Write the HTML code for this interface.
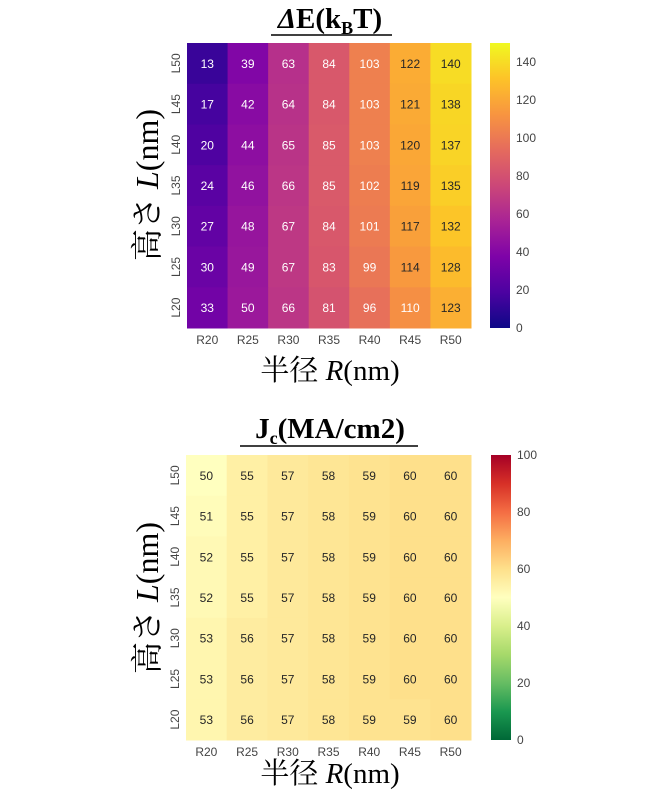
<!DOCTYPE html>
<html><head><meta charset="utf-8"><style>
body{margin:0;background:#fff;width:660px;height:790px;overflow:hidden}
svg{display:block}
</style></head><body>
<svg id="s" width="660" height="790" xmlns="http://www.w3.org/2000/svg" font-family="Liberation Sans, sans-serif">
<defs>
<linearGradient id="gp" x1="0" y1="1" x2="0" y2="0">
<stop offset="0" stop-color="#0d0887"/><stop offset="0.125" stop-color="#4c02a1"/><stop offset="0.25" stop-color="#7e03a8"/><stop offset="0.375" stop-color="#a92395"/><stop offset="0.5" stop-color="#cc4778"/><stop offset="0.625" stop-color="#e56b5d"/><stop offset="0.75" stop-color="#f89540"/><stop offset="0.875" stop-color="#fdc328"/><stop offset="1" stop-color="#f0f921"/>
</linearGradient>
<linearGradient id="gr" x1="0" y1="1" x2="0" y2="0">
<stop offset="0" stop-color="#006837"/><stop offset="0.1" stop-color="#1a9850"/><stop offset="0.2" stop-color="#66bd63"/><stop offset="0.3" stop-color="#a6d96a"/><stop offset="0.4" stop-color="#d9ef8b"/><stop offset="0.5" stop-color="#ffffbf"/><stop offset="0.6" stop-color="#fee08b"/><stop offset="0.7" stop-color="#fdae61"/><stop offset="0.8" stop-color="#f46d43"/><stop offset="0.9" stop-color="#d73027"/><stop offset="1" stop-color="#a50026"/>
</linearGradient>
</defs>
<text x="330" y="28" text-anchor="middle" font-family="Liberation Serif, serif" font-weight="bold" font-size="29"><tspan font-style="italic">Δ</tspan>E(k<tspan font-size="18" dy="6">B</tspan><tspan dy="-6">T)</tspan></text>
<line x1="271" y1="35" x2="392" y2="35" stroke="#000" stroke-width="1.5"/>
<text x="330" y="438" text-anchor="middle" font-family="Liberation Serif, serif" font-weight="bold" font-size="29">J<tspan font-size="18" dy="6">c</tspan><tspan dy="-6">(MA/cm2)</tspan></text>
<line x1="240" y1="446" x2="418" y2="446" stroke="#000" stroke-width="1.5"/>
<text transform="translate(158,185) rotate(-90)" text-anchor="middle" font-family="Liberation Serif, 'Noto Serif CJK SC', serif" font-size="32">高さ <tspan font-style="italic">L</tspan>(nm)</text>
<text transform="translate(158,598) rotate(-90)" text-anchor="middle" font-family="Liberation Serif, 'Noto Serif CJK SC', serif" font-size="32">高さ <tspan font-style="italic">L</tspan>(nm)</text>
<text x="330" y="380" text-anchor="middle" font-family="Liberation Serif, 'Noto Serif CJK SC', serif" font-size="29">半径 <tspan font-style="italic">R</tspan>(nm)</text>
<text x="330" y="783" text-anchor="middle" font-family="Liberation Serif, 'Noto Serif CJK SC', serif" font-size="29">半径 <tspan font-style="italic">R</tspan>(nm)</text>
<rect x="490" y="43" width="20" height="285" fill="url(#gp)"/>
<rect x="491" y="455" width="20" height="285" fill="url(#gr)"/>
<g id="g"></g>
</svg>
<script>
(function(){
function hex(h){return [parseInt(h.substr(1,2),16),parseInt(h.substr(3,2),16),parseInt(h.substr(5,2),16)];}
function interp(stops,t){t=Math.max(0,Math.min(1,t));var n=stops.length-1,i=Math.min(n-1,Math.floor(t*n)),f=t*n-i;var a=hex(stops[i]),b=hex(stops[i+1]);return a.map(function(v,k){return Math.round(v+(b[k]-v)*f);});}
var P=["#0d0887","#4c02a1","#7e03a8","#a92395","#cc4778","#e56b5d","#f89540","#fdc328","#f0f921"];
var R=["#006837","#1a9850","#66bd63","#a6d96a","#d9ef8b","#ffffbf","#fee08b","#fdae61","#f46d43","#d73027","#a50026"];
var dTop=[[13,39,63,84,103,122,140],[17,42,64,84,103,121,138],[20,44,65,85,103,120,137],[24,46,66,85,102,119,135],[27,48,67,84,101,117,132],[30,49,67,83,99,114,128],[33,50,66,81,96,110,123]];
var dBot=[[50,55,57,58,59,60,60],[51,55,57,58,59,60,60],[52,55,57,58,59,60,60],[52,55,57,58,59,60,60],[53,56,57,58,59,60,60],[53,56,57,58,59,60,60],[53,56,57,58,59,59,60]];
var s="";var L=["L50","L45","L40","L35","L30","L25","L20"],C=["R20","R25","R30","R35","R40","R45","R50"];
function lum(c){var l=c.map(function(v){v/=255;return v<=0.03928?v/12.92:Math.pow((v+0.055)/1.055,2.4);});return 0.2126*l[0]+0.7152*l[1]+0.0722*l[2];}
function draw(data,x0,y0,w,h,stops,max){
 var cw=w/7,ch=h/7;
 for(var r=0;r<7;r++)for(var c=0;c<7;c++){var col=interp(stops,data[r][c]/max);
  s+='<rect x="'+(x0+c*cw)+'" y="'+(y0+r*ch)+'" width="'+(cw+0.5)+'" height="'+(ch+0.5)+'" fill="rgb('+col.join(",")+')"/>';
  var tc=lum(col)>0.408?"#262626":"#fff";
  s+='<text x="'+(x0+c*cw+cw/2)+'" y="'+(y0+r*ch+ch/2+4.5)+'" text-anchor="middle" font-size="12" fill="'+tc+'">'+data[r][c]+'</text>';}
 for(var r=0;r<7;r++){var yy=y0+r*ch+ch/2;s+='<text transform="translate('+(x0-7)+','+yy+') rotate(-90)" text-anchor="middle" font-size="12" fill="#444">'+L[r]+'</text>';}
 for(var c=0;c<7;c++){s+='<text x="'+(x0+c*cw+cw/2)+'" y="'+(y0+h+16)+'" text-anchor="middle" font-size="12" fill="#444">'+C[c]+'</text>';}
}
draw(dTop,187,43,284,285,P,150);
draw(dBot,186,455,285,285,R,100);
for(var v=0;v<=140;v+=20){var y=328-v*285/150;s+='<text x="516" y="'+(y+4)+'" font-size="12" fill="#444">'+v+'</text>';}
for(var v=0;v<=100;v+=20){var y=740-v*2.85;s+='<text x="517" y="'+(y+4)+'" font-size="12" fill="#444">'+v+'</text>';}
document.getElementById("g").innerHTML=s;
})();
</script>
</body></html>
